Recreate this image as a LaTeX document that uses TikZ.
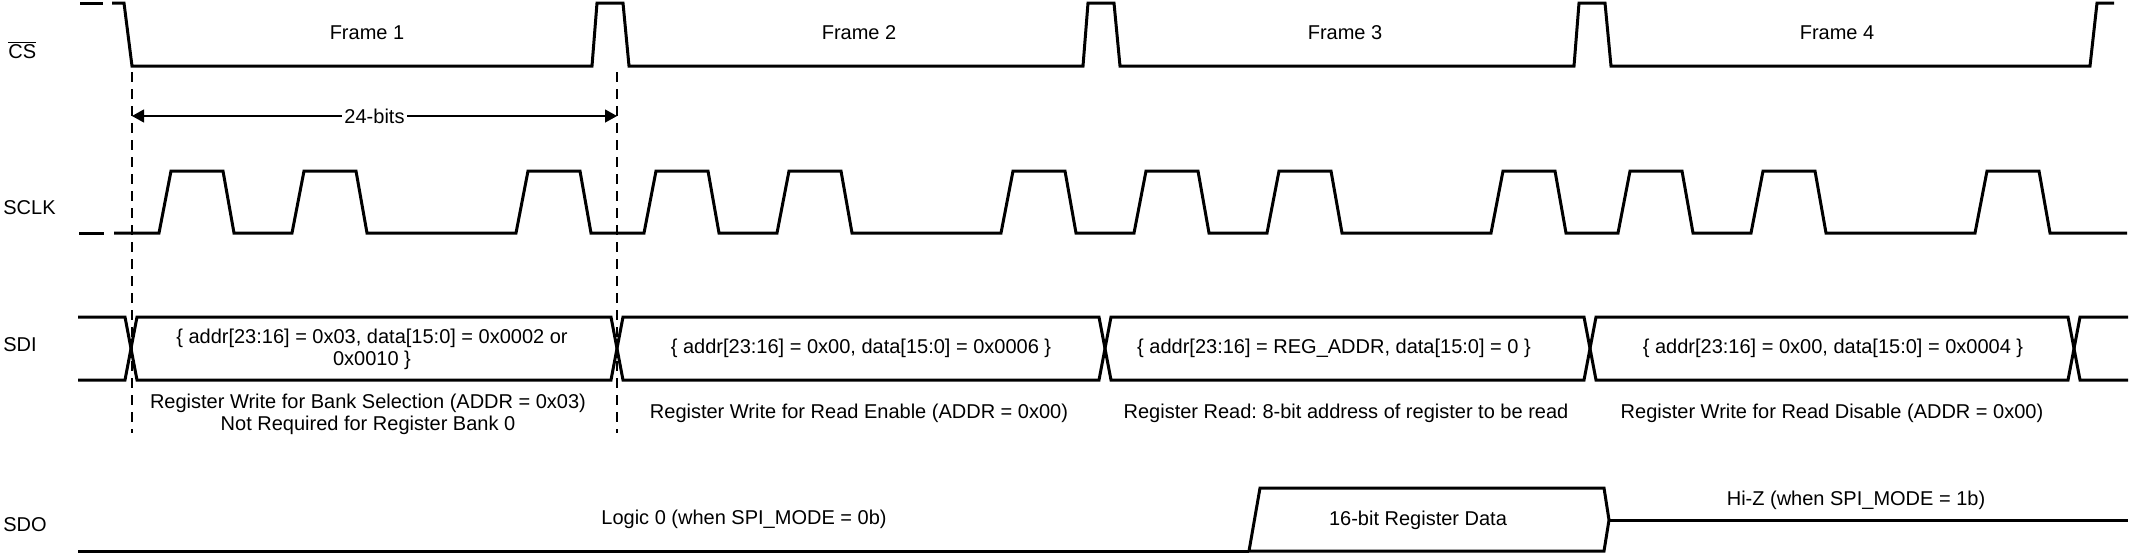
\documentclass[tikz,border=0pt]{standalone}
\usepackage{fontspec}
\setmainfont{Liberation Sans}
\frenchspacing
\usetikzlibrary{arrows.meta}

\begin{document}
\begin{tikzpicture}[x=0.5pt,y=-0.5pt,>={Triangle[length=6pt,width=6.5pt]},
  sig/.style={line width=1.5pt,line join=miter},
  guide/.style={line width=0.6pt,dash pattern=on 5pt off 3.5pt},
  lbl/.style={font=\fontsize{10}{11}\selectfont,inner sep=0pt,align=center}]
\useasboundingbox (0,0) rectangle (2129,554);
% signal names
\node[lbl,anchor=west] (cs) at (8,50) {$\overline{\mbox{CS}}$};
\node[lbl,anchor=west] (sclk) at (3,208) {SCLK};
\node[lbl,anchor=west] (sdi) at (3,345) {SDI};
\node[lbl,anchor=west] (sdo) at (3,525) {SDO};
% chip select
\draw[sig] (80,3) -- (103,3);
\draw[sig] (112,3) -- (124,3) -- (132,66)
  \foreach \p in {592,1083,1574}{ -- (\p,66) -- ({\p+5},3) -- ({\p+31},3) -- ({\p+37},66)}
  -- (2090,66) -- (2097,3) -- (2114,3);
\node[lbl] (f1) at (367,33) {Frame 1};
\node[lbl] (f2) at (859,33) {Frame 2};
\node[lbl] (f3) at (1345,33) {Frame 3};
\node[lbl] (f4) at (1837,33) {Frame 4};
% frame guides
\coordinate (g1) at (132,72);
\coordinate (g1e) at (132,433);
\coordinate (g2) at (617,72);
\coordinate (g2e) at (617,433);
\draw[guide] (g1) -- (g1e);
\draw[guide] (g2) -- (g2e);
\coordinate (a1) at (132,116);
\coordinate (a2) at (617,116);
\draw[<->,line width=0.6pt] (a1) -- node[lbl,fill=white,inner xsep=1pt] (bits) {24-bits} (a2);
% clock
\draw[sig] (79,233) -- (104,233);
\draw[sig] (114,233)
  \foreach \s in {159,644,1134,1618}{
    \foreach \o in {0,133,357}{ -- ({\s+\o},233) -- ({\s+\o+12},171) -- ({\s+\o+64},171) -- ({\s+\o+75},233)}}
  -- (2127,233);
% data in
\draw[sig] (78,317) -- (125,317) -- (131,348.5) -- (125,380) -- (78,380);
\foreach \a/\b in {131/617,617/1105,1105/1590,1590/2074}
  \draw[sig] (\a,348.5) -- ({\a+6},317) -- ({\b-6},317) -- (\b,348.5) -- ({\b-6},380) -- ({\a+6},380) -- cycle;
\draw[sig] (2128,317) -- (2080,317) -- (2074,348.5) -- (2080,380) -- (2128,380);
\node[lbl] (d1) at (372,349) {\{ addr[23:16] = 0x03, data[15:0] = 0x0002 or\\0x0010 \}};
\node[lbl] (d2) at (861,348) {\{ addr[23:16] = 0x00, data[15:0] = 0x0006 \}};
\node[lbl] (d3) at (1334,348) {\{ addr[23:16] = REG\_ADDR, data[15:0] = 0 \}};
\node[lbl] (d4) at (1833,348) {\{ addr[23:16] = 0x00, data[15:0] = 0x0004 \}};
\node[lbl] (r1) at (368,414) {Register Write for Bank Selection (ADDR = 0x03)\\Not Required for Register Bank 0};
\node[lbl] (r2) at (859,413) {Register Write for Read Enable (ADDR = 0x00)};
\node[lbl] (r3) at (1346,413) {Register Read: 8-bit address of register to be read};
\node[lbl] (r4) at (1832,413) {Register Write for Read Disable (ADDR = 0x00)};
% data out
\draw[sig] (78,551) -- (1249,551);
\draw[sig] (1249,551) -- (1260,488) -- (1604,488) -- (1609,520) -- (1604,551) -- cycle;
\draw[sig] (1609,520) -- (2128,520);
\node[lbl] (lo) at (744,519) {Logic 0 (when SPI\_MODE = 0b)};
\node[lbl] (rd) at (1418,520) {16-bit Register Data};
\node[lbl] (hz) at (1856,500) {Hi-Z (when SPI\_MODE = 1b)};
\end{tikzpicture}
\end{document}
